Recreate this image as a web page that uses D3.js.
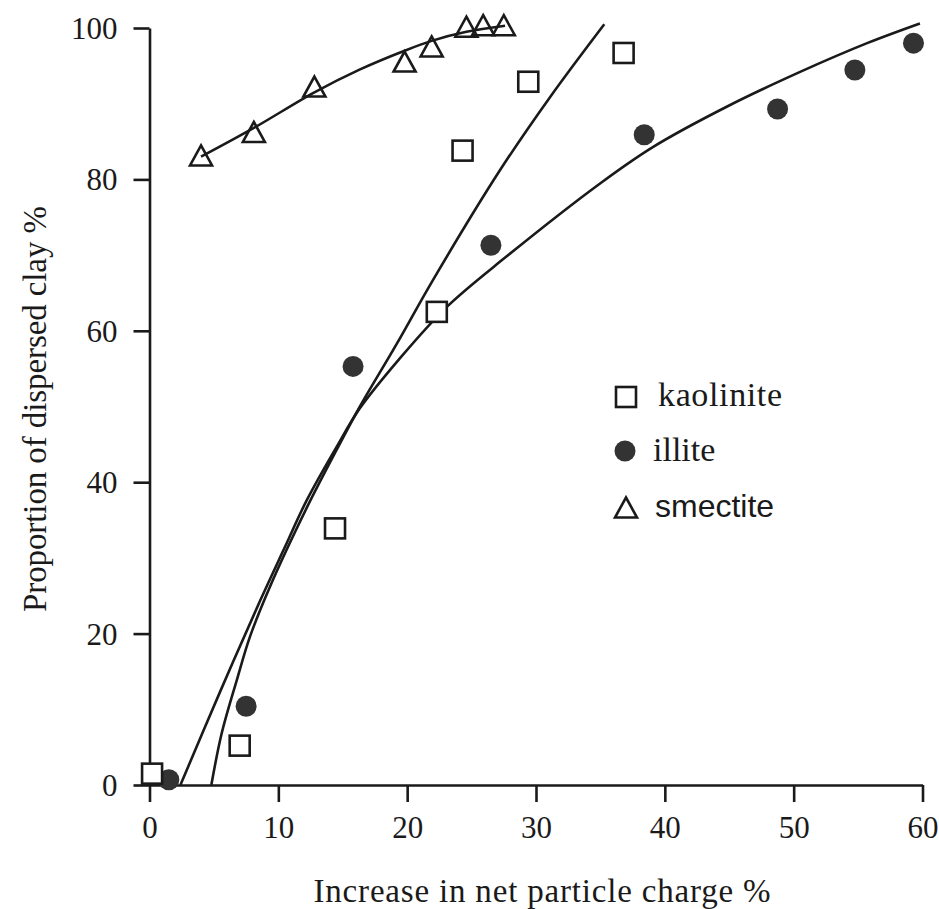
<!DOCTYPE html>
<html><head><meta charset="utf-8">
<script src="https://cdn.jsdelivr.net/npm/d3@7"></script>
<style>
html,body{margin:0;padding:0;background:#fff;}
svg{display:block;}
</style></head>
<body>
<script>
// ---- data ----
const xTicks = [0, 10, 20, 30, 40, 50, 60];
const yTicks = [0, 20, 40, 60, 80, 100];
const xTitle = "Increase in net particle charge %";
const yTitle = "Proportion of dispersed clay %";

const kaoliniteX = [0.2, 7.0, 14.4, 22.3, 24.3, 29.4, 36.8];
const kaoliniteY = [1.5, 5.2, 33.9, 62.5, 83.8, 92.9, 96.7];

const illiteX = [1.5, 7.5, 15.8, 26.5, 38.4, 48.75, 54.75, 59.3];
const illiteY = [0.7, 10.4, 55.3, 71.3, 85.9, 89.3, 94.45, 98.0];

const smectiteX = [4.0, 8.1, 12.8, 19.8, 21.9, 24.6, 25.9, 27.5];
const smectiteY = [83.1, 86.2, 92.2, 95.5, 97.5, 100.1, 100.3, 100.3];

// fitted curves
const kaoliniteFitX = [4.8, 5.6, 6.8, 7.8, 9.35, 12.2, 14.5, 16.3, 19.2, 22.0, 27.2, 31.1, 35.3];
const kaoliniteFitY = [0, 6.8, 14.0, 19.6, 26.2, 36.6, 44.2, 49.9, 58.3, 66.7, 81.2, 90.9, 100.5];

const illiteFitX = [2.4, 5.5, 8.6, 10.5, 12.2, 14.5, 16.3, 19.4, 23.1, 27.7, 35.0, 39.1, 44.8, 50.5, 55.7, 59.8];
const illiteFitY = [0, 12.4, 24.4, 31.4, 37.6, 44.6, 49.7, 56.3, 63.2, 69.8, 79.5, 84.3, 89.6, 94.2, 98.0, 100.6];

const smectiteFitX = [4.0, 8.1, 12.8, 16.3, 19.8, 21.9, 24.6, 27.6];
const smectiteFitY = [83.0, 86.8, 91.5, 94.5, 97.0, 98.3, 99.5, 100.3];

const legendLabels = ["kaolinite", "illite", "smectite"];

// ---- drawing ----
const W = 939, H = 909;
const svg = d3.select("body").append("svg").attr("width", W).attr("height", H);

const x = d3.scaleLinear().domain([0, 60]).range([149.5, 922.5]);
const y = d3.scaleLinear().domain([0, 100]).range([785, 28]);

const serif = "'Liberation Serif', 'Times New Roman', serif";
const sans = "'Liberation Sans', Arial, sans-serif";
const ink = "#1a1a1a";

// axes
const xAxis = svg.append("g").attr("transform", `translate(0,${y(0)})`)
  .call(d3.axisBottom(x).tickValues(xTicks).tickSize(17).tickSizeOuter(0).tickPadding(14).tickFormat(d3.format("d")));
const yAxis = svg.append("g").attr("transform", `translate(${x(0)},0)`)
  .call(d3.axisLeft(y).tickValues(yTicks).tickSize(16).tickSizeOuter(0).tickPadding(16).tickFormat(d3.format("d")));

[xAxis, yAxis].forEach(g => {
  g.select(".domain").attr("stroke", ink).attr("stroke-width", 2.6);
  g.selectAll(".tick line").attr("stroke", ink).attr("stroke-width", 2.6);
  g.selectAll(".tick text").attr("fill", ink).style("font-family", serif).style("font-size", "31px");
});
yAxis.selectAll(".tick text").attr("dy", "0.34em");

// axis titles
svg.append("text").attr("x", 542).attr("y", 902)
  .attr("text-anchor", "middle").style("font-family", serif).style("font-size", "33px")
  .attr("textLength", 457).attr("lengthAdjust", "spacing")
  .attr("fill", ink).text(xTitle);
svg.append("text").attr("transform", `translate(46,409) rotate(-90)`)
  .attr("text-anchor", "middle").style("font-family", serif).style("font-size", "33px")
  .attr("textLength", 406).attr("lengthAdjust", "spacing")
  .attr("fill", ink).text(yTitle);

// fit curves
const line = d3.line().x(d => x(d[0])).y(d => y(d[1])).curve(d3.curveCatmullRom.alpha(0.5));
const curves = [
  d3.zip(kaoliniteFitX, kaoliniteFitY),
  d3.zip(illiteFitX, illiteFitY),
  d3.zip(smectiteFitX, smectiteFitY)
];
svg.append("g").selectAll("path").data(curves).join("path")
  .attr("d", line).attr("fill", "none").attr("stroke", ink).attr("stroke-width", 2.6);

// markers
const sq = 20;
function drawSquare(g, cx, cy) {
  g.append("rect").attr("x", cx - sq / 2).attr("y", cy - sq / 2).attr("width", sq).attr("height", sq)
    .attr("fill", "#fff").attr("stroke", ink).attr("stroke-width", 2.6);
}
function drawCircle(g, cx, cy) {
  g.append("circle").attr("cx", cx).attr("cy", cy).attr("r", 10.5).attr("fill", "#333");
}
function drawTriangle(g, cx, cy) {
  const w = 22, h = 19;
  g.append("path").attr("d", `M${cx},${cy - h / 2 - 1}L${cx + w / 2},${cy + h / 2}L${cx - w / 2},${cy + h / 2}Z`)
    .attr("fill", "none").attr("stroke", ink).attr("stroke-width", 2.6).attr("stroke-linejoin", "miter");
}

const pts = svg.append("g");
d3.zip(smectiteX, smectiteY).forEach(d => drawTriangle(pts, x(d[0]), y(d[1])));
d3.zip(illiteX, illiteY).forEach(d => drawCircle(pts, x(d[0]), y(d[1])));
d3.zip(kaoliniteX, kaoliniteY).forEach(d => drawSquare(pts, x(d[0]), y(d[1])));

// legend
const lg = svg.append("g");
drawSquare(lg, 626, 397);
drawCircle(lg, 625, 451);
drawTriangle(lg, 626, 508);
lg.append("text").attr("x", 658).attr("y", 406).style("font-family", serif).style("font-size", "34px")
  .attr("textLength", 124).attr("lengthAdjust", "spacing").attr("fill", ink).text(legendLabels[0]);
lg.append("text").attr("x", 653).attr("y", 461).style("font-family", serif).style("font-size", "34px")
  .attr("fill", ink).text(legendLabels[1]);
lg.append("text").attr("x", 655).attr("y", 517).style("font-family", sans).style("font-size", "32px")
  .attr("fill", ink).text(legendLabels[2]);
</script>
</body></html>
